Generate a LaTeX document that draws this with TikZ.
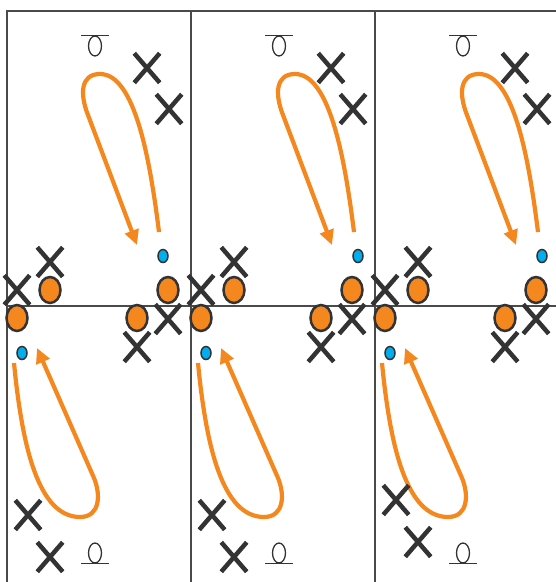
\documentclass[tikz,border=0pt]{standalone}
\usepackage{tikz}
\usetikzlibrary{arrows.meta,shapes.geometric,shapes.misc}
\definecolor{ink}{HTML}{333333}
\definecolor{orng}{HTML}{F5871F}
\definecolor{sky}{HTML}{00AEEF}
\definecolor{courtline}{HTML}{4A4A4A}

\begin{document}
\begin{tikzpicture}[x=1pt,y=-1pt,
  player/.style={ellipse,draw=ink,line width=2.5pt,fill=orng,minimum width=21pt,
                 minimum height=26pt,inner sep=0pt},
  ball/.style={ellipse,draw=ink,line width=1.5pt,fill=sky,minimum width=10pt,
               minimum height=13pt,inner sep=0pt},
  defender/.style={cross out,draw=ink,line width=4.5pt,minimum width=21pt,
                   minimum height=25pt,inner sep=0pt},
  hoop/.style={ellipse,draw=ink,line width=1.3pt,minimum width=13pt,
               minimum height=20pt,inner sep=0pt},
  rim/.style={draw=ink,line width=1.3pt},
  court/.style={draw=courtline,line width=2pt},
  run/.style={draw=orng,line width=4.2pt,-{Triangle[length=15pt,width=14pt]}}
]
\useasboundingbox (0,0) rectangle (556,582);
% court lines
\draw[court] (7,582) -- (7,11) -- (556,11);
\draw[court] (191,11) -- (191,582);
\draw[court] (375,11) -- (375,582);
\draw[court] (7,306) -- (556,306);

% three panels
\foreach \i/\dx/\s/\h in {1/0/0/0,2/184/11/0,3/368/11/-15}{
\begin{scope}[xshift=\dx]
  % upper half
  \node[hoop] (hu\i) at (95,46) {};
  \draw[rim] ([xshift=-14pt]hu\i.north) -- ([xshift=14pt]hu\i.north);
  \node[defender] (xa\i) at (147,68) {};
  \node[defender] (xb\i) at (169,109) {};
  \begin{scope}[xshift=\s]
    \node[ball] (bu\i) at (163,256) {};
    \coordinate (su\i) at (159,232);
    \coordinate (eu\i) at (137,245);
    \draw[run] (su\i) .. controls (150,160) and (135,74) .. (100,74)
      .. controls (80,74) and (80,95) .. (88,115) -- (eu\i);
  \end{scope}
  % players at the line
  \node[defender] (xc\i) at (50,262) {};
  \node[defender] (xd\i) at (17,290) {};
  \node[player] (pa\i) at (50,290) {};
  \node[player] (pb\i) at (168,290) {};
  \node[player] (pc\i) at (17,318) {};
  \node[player] (pd\i) at (137,318) {};
  \node[defender] (xe\i) at (168,319) {};
  \node[defender] (xf\i) at (137,347) {};
  % lower half
  \node[ball] (bl\i) at (22,353) {};
  \coordinate (sl\i) at (14,363);
  \coordinate (el\i) at (37,348);
  \draw[run] (sl\i) .. controls (22,445) and (38,517) .. (80,517)
    .. controls (100,517) and (101,495) .. (94,478) -- (el\i);
  \node[defender] (xg\i) at (28,515+\h) {};
  \node[defender] (xh\i) at (50,557+\h) {};
  \node[hoop] (hl\i) at (95,553) {};
  \draw[rim] ([xshift=-14pt]hl\i.south) -- ([xshift=14pt]hl\i.south);
\end{scope}}
\end{tikzpicture}
\end{document}
